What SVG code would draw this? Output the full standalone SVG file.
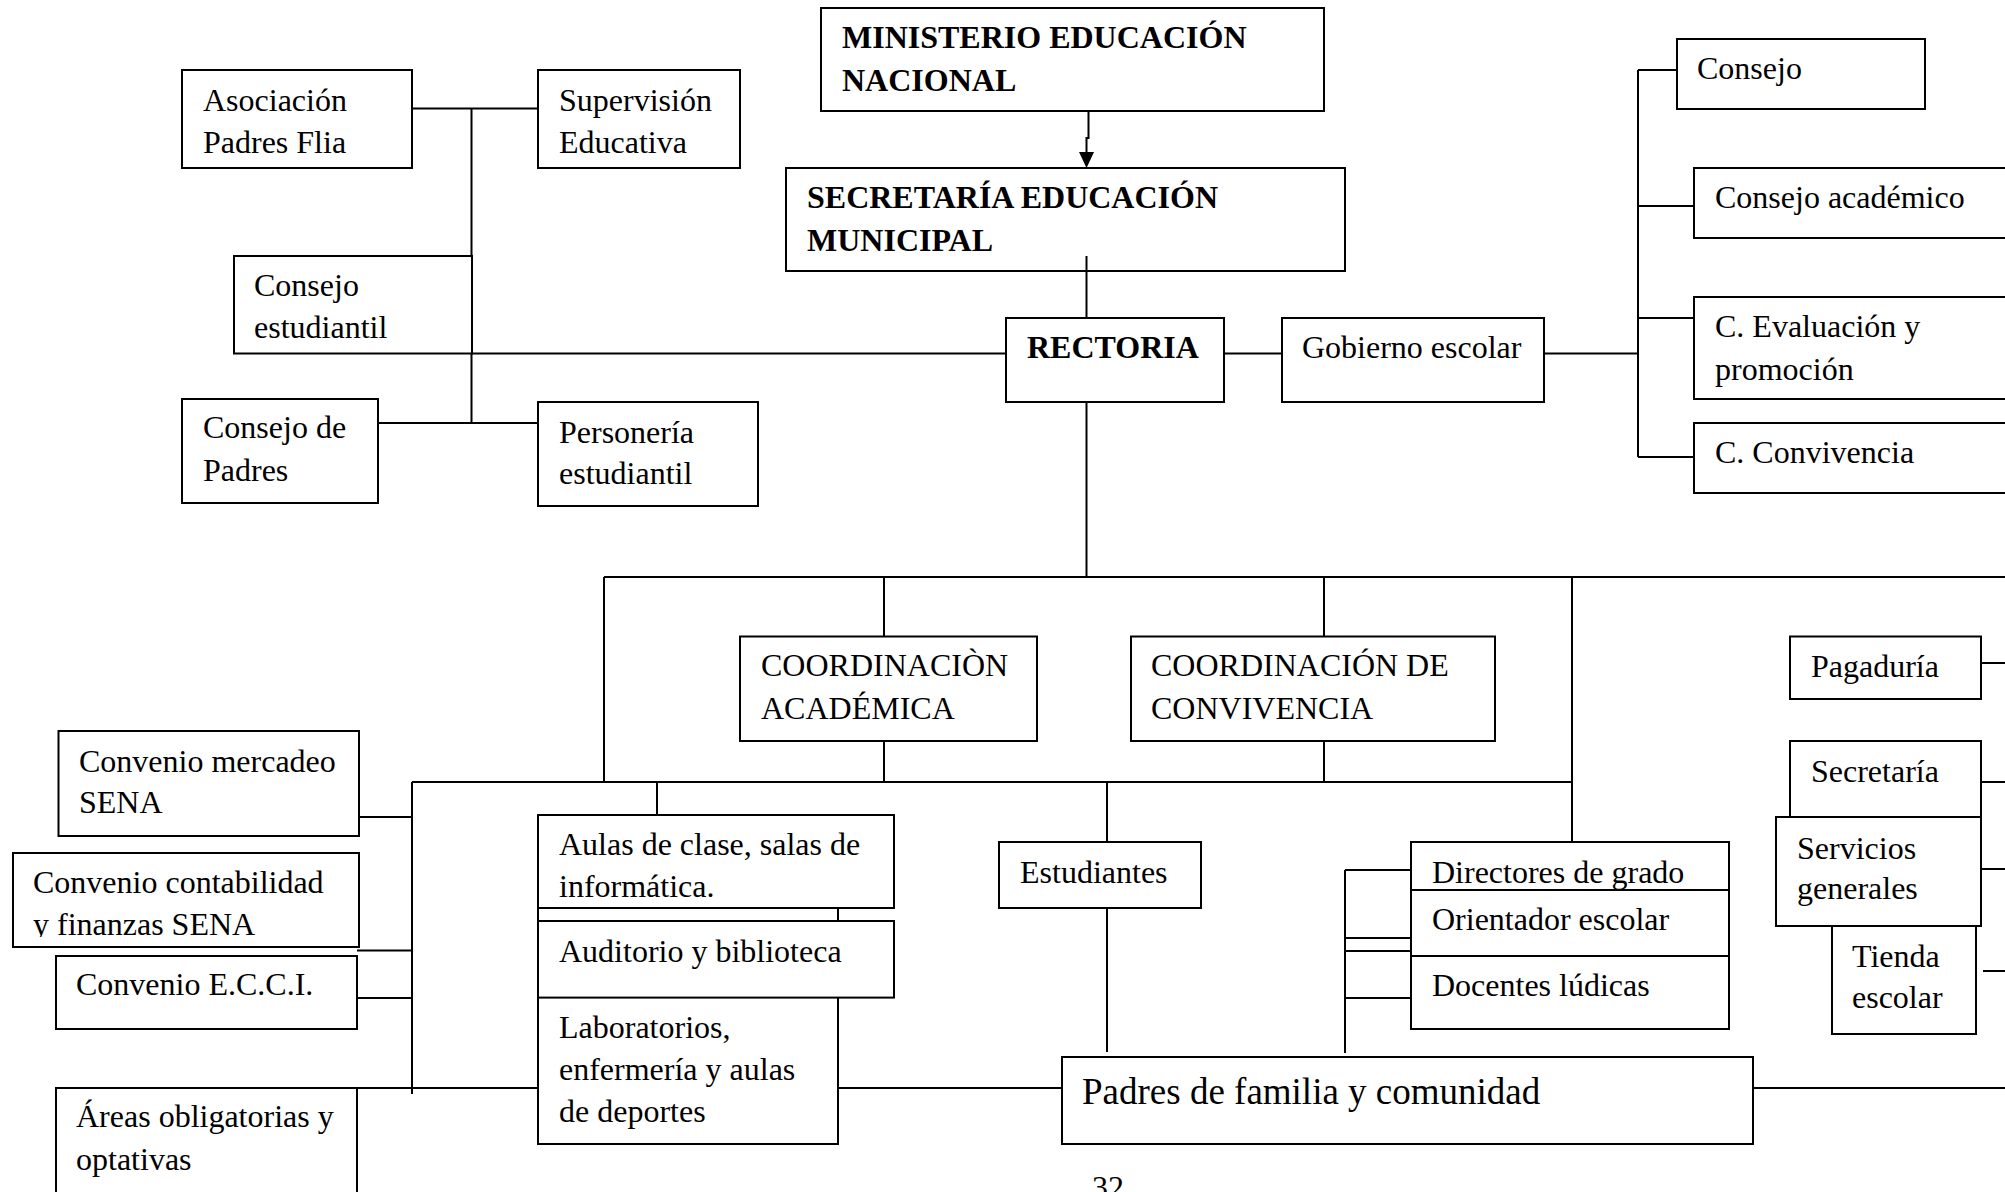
<svg xmlns="http://www.w3.org/2000/svg" width="2005" height="1192" viewBox="0 0 2005 1192">
<style>
.box{fill:#fff;stroke:#000;stroke-width:2}
.ln{fill:none;stroke:#000;stroke-width:2}
text{font-family:"Liberation Serif","Times New Roman",serif;font-size:32px;fill:#000}
.b{font-weight:bold}
.big{font-size:37px}
</style>
<defs>
<marker id="arr" markerUnits="userSpaceOnUse" markerWidth="16" markerHeight="15" viewBox="0 0 16 15" refX="0" refY="7.5" orient="auto">
<polygon points="0,0 16,7.5 0,15" fill="#000"/>
</marker>
<clipPath id="clipConta"><rect x="13" y="853" width="346" height="84"/></clipPath>
</defs>
<rect width="2005" height="1192" fill="#fff"/>
<g id="connectors">
<path class="ln" d="M1088.5 111 V138 H1086.5 V152" marker-end="url(#arr)"/>
<path class="ln" d="M1086.5 256 V318"/>
<path class="ln" d="M1224 353.5 H1282"/>
<path class="ln" d="M1544 353.5 H1638"/>
<path class="ln" d="M1638 70 V457"/>
<path class="ln" d="M1638 70 H1677 M1638 206 H1694 M1638 318 H1694 M1638 457 H1694"/>
<path class="ln" d="M472 353.5 H1006"/>
<path class="ln" d="M471.5 108.5 V423"/>
<path class="ln" d="M412 108.5 H538"/>
<path class="ln" d="M378 423 H538"/>
<path class="ln" d="M1086.5 402 V577"/>
<path class="ln" d="M604 577 H2005"/>
<path class="ln" d="M604 577 V782"/>
<path class="ln" d="M884 577 V636.5 M884 741 V782"/>
<path class="ln" d="M1324 577 V636.5 M1324 741 V782"/>
<path class="ln" d="M1572 577 V842"/>
<path class="ln" d="M412 782 H1572"/>
<path class="ln" d="M412 782 V1094"/>
<path class="ln" d="M359 817 H412 M357 950.5 H412 M357 998 H412"/>
<path class="ln" d="M357 1088 H538 M838 1088 H1062 M1753 1088 H2005"/>
<path class="ln" d="M657 782 V815"/>
<path class="ln" d="M1107 782 V842 M1107 908 V1052"/>
<path class="ln" d="M1345 870 V1053"/>
<path class="ln" d="M1345 870 H1411 M1345 938 H1411 M1345 951 H1411 M1345 998 H1411"/>
<path class="ln" d="M1981 663 H2005 M1981 782 H2005 M1981 869 H2005 M1983 971 H2005"/>
</g>
<g id="ministerio"><rect class="box" x="821" y="8" width="503" height="103"/><text class="b" x="842" y="48">MINISTERIO EDUCACIÓN</text><text class="b" x="842" y="91">NACIONAL</text></g>
<g id="secretaria-educacion"><rect class="box" x="786" y="168" width="559" height="103"/><text class="b" x="807" y="208">SECRETARÍA EDUCACIÓN</text><text class="b" x="807" y="251">MUNICIPAL</text></g>
<path class="ln" d="M1086.5 256 V271"/>
<g id="rectoria"><rect class="box" x="1006" y="318" width="218" height="84"/><text class="b" x="1027" y="358">RECTORIA</text></g>
<g id="gobierno"><rect class="box" x="1282" y="318" width="262" height="84"/><text x="1302" y="358">Gobierno escolar</text></g>
<g id="consejo"><rect class="box" x="1677" y="39" width="248" height="70"/><text x="1697" y="79">Consejo</text></g>
<g id="consejo-academico"><rect class="box" x="1694" y="168" width="330" height="70"/><text x="1715" y="208">Consejo académico</text></g>
<g id="c-evaluacion"><rect class="box" x="1694" y="297" width="330" height="102"/><text x="1715" y="337">C. Evaluación y</text><text x="1715" y="380">promoción</text></g>
<g id="c-convivencia"><rect class="box" x="1694" y="423" width="330" height="70"/><text x="1715" y="463">C. Convivencia</text></g>
<g id="asociacion"><rect class="box" x="182" y="70" width="230" height="98"/><text x="203" y="111">Asociación</text><text x="203" y="153">Padres Flia</text></g>
<g id="supervision"><rect class="box" x="538" y="70" width="202" height="98"/><text x="559" y="111">Supervisión</text><text x="559" y="153">Educativa</text></g>
<g id="consejo-estudiantil"><rect class="box" x="234" y="256" width="238" height="97.5"/><text x="254" y="296">Consejo</text><text x="254" y="338">estudiantil</text></g>
<g id="consejo-padres"><rect class="box" x="182" y="399" width="196" height="104"/><text x="203" y="438">Consejo de</text><text x="203" y="481">Padres</text></g>
<g id="personeria"><rect class="box" x="538" y="402" width="220" height="104"/><text x="559" y="443">Personería</text><text x="559" y="484">estudiantil</text></g>
<g id="coord-academica"><rect class="box" x="740" y="636.5" width="297" height="104.5"/><text x="761" y="676">COORDINACIÒN</text><text x="761" y="719">ACADÉMICA</text></g>
<g id="coord-convivencia"><rect class="box" x="1131" y="636.5" width="364" height="104.5"/><text x="1151" y="676">COORDINACIÓN DE</text><text x="1151" y="719">CONVIVENCIA</text></g>
<g id="convenio-mercadeo"><rect class="box" x="58.5" y="731" width="300.5" height="105"/><text x="79" y="772">Convenio mercadeo</text><text x="79" y="813">SENA</text></g>
<g id="convenio-contabilidad"><rect class="box" x="13" y="853" width="346" height="94"/><g clip-path="url(#clipConta)"><text x="33" y="893">Convenio contabilidad</text><text x="33" y="935">y finanzas SENA</text></g></g>
<g id="convenio-ecci"><rect class="box" x="56" y="956" width="301" height="73"/><text x="76" y="995">Convenio E.C.C.I.</text></g>
<g id="areas"><rect class="box" x="56" y="1088" width="301" height="130"/><text x="76" y="1127">Áreas obligatorias y</text><text x="76" y="1170">optativas</text></g>
<g id="laboratorios"><rect class="box" x="538" y="900" width="300" height="244"/><text x="559" y="1038">Laboratorios,</text><text x="559" y="1080">enfermería y aulas</text><text x="559" y="1122">de deportes</text></g>
<g id="aulas"><rect class="box" x="538" y="815" width="356" height="93"/><text x="559" y="855">Aulas de clase, salas de</text><text x="559" y="897">informática.</text></g>
<g id="auditorio"><rect class="box" x="538" y="921" width="356" height="76.6"/><text x="559" y="962">Auditorio y biblioteca</text></g>
<g id="estudiantes"><rect class="box" x="999" y="842" width="202" height="66"/><text x="1020" y="883">Estudiantes</text></g>
<g id="padres-comunidad"><rect class="box" x="1062" y="1057" width="691" height="87"/><text class="big" x="1082" y="1104">Padres de familia y comunidad</text></g>
<g id="directores"><rect class="box" x="1411" y="842" width="318" height="48"/></g>
<g id="orientador"><rect class="box" x="1411" y="890" width="318" height="66"/><text x="1432" y="930">Orientador escolar</text></g>
<g id="docentes"><rect class="box" x="1411" y="956" width="318" height="73"/><text x="1432" y="996">Docentes lúdicas</text></g>
<text x="1432" y="883">Directores de grado</text>
<g id="pagaduria"><rect class="box" x="1790" y="636.5" width="191" height="62.5"/><text x="1811" y="677">Pagaduría</text></g>
<g id="secretaria"><rect class="box" x="1790" y="741" width="191" height="76"/><text x="1811" y="782">Secretaría</text></g>
<g id="servicios"><rect class="box" x="1776" y="817" width="205" height="109"/><text x="1797" y="859">Servicios</text><text x="1797" y="899">generales</text></g>
<g id="tienda"><rect class="box" x="1832" y="926" width="144" height="108"/><text x="1852" y="967">Tienda</text><text x="1852" y="1008">escolar</text></g>
<text x="1092" y="1198">32</text>
</svg>
